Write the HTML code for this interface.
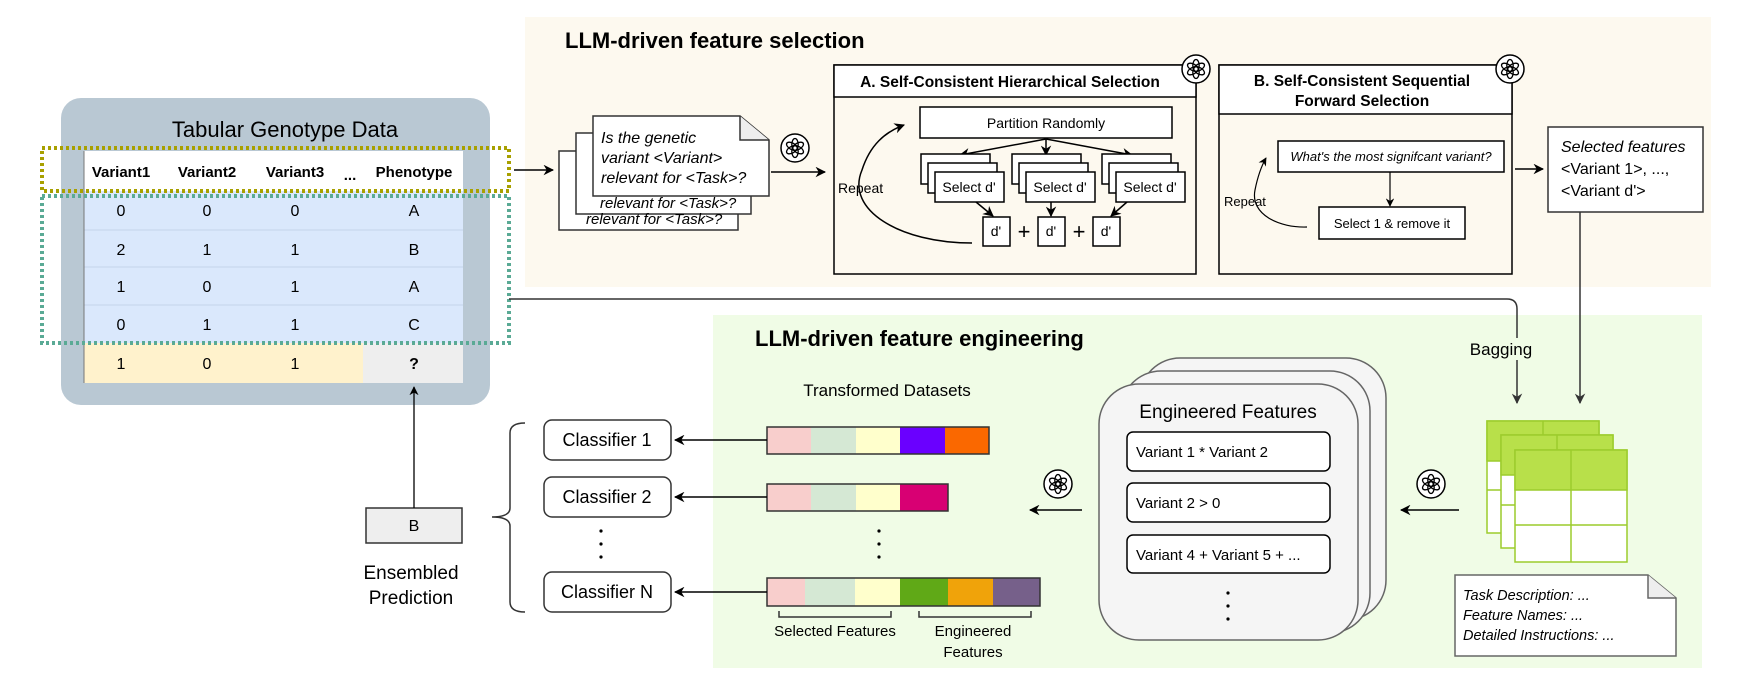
<!DOCTYPE html>
<html><head><meta charset="utf-8"><style>
html,body{margin:0;padding:0;background:#fff;}
svg{display:block;font-family:"Liberation Sans",Arial,sans-serif;}
</style></head><body>
<svg width="1744" height="681" viewBox="0 0 1744 681" xmlns="http://www.w3.org/2000/svg">
<defs>
<marker id="ah" viewBox="0 0 10 10" refX="9" refY="5" markerWidth="7" markerHeight="7" orient="auto-start-reverse"><path d="M0,0 L10,5 L0,10 L3,5 z" fill="#000"/></marker>
<marker id="ahg" viewBox="0 0 10 10" refX="9" refY="5" markerWidth="7" markerHeight="7" orient="auto-start-reverse"><path d="M0,0 L10,5 L0,10 L3,5 z" fill="#333"/></marker>
<g id="gpt">
<circle cx="0" cy="0" r="14" fill="#fff" stroke="#000" stroke-width="1.5"/>
<g fill="none" stroke="#000" stroke-width="1.3">
<ellipse cx="0" cy="-3.5" rx="3.2" ry="6" />
<ellipse cx="0" cy="-3.5" rx="3.2" ry="6" transform="rotate(60)"/>
<ellipse cx="0" cy="-3.5" rx="3.2" ry="6" transform="rotate(120)"/>
<ellipse cx="0" cy="-3.5" rx="3.2" ry="6" transform="rotate(180)"/>
<ellipse cx="0" cy="-3.5" rx="3.2" ry="6" transform="rotate(240)"/>
<ellipse cx="0" cy="-3.5" rx="3.2" ry="6" transform="rotate(300)"/>
</g>
</g>
</defs>

<!-- panels -->
<rect x="525" y="17" width="1186" height="270" fill="#fdf9ef"/>
<rect x="713" y="315" width="989" height="353" fill="#f0fce6"/>
<text x="565" y="48" font-size="22" font-weight="bold">LLM-driven feature selection</text>
<text x="755" y="346" font-size="22" font-weight="bold">LLM-driven feature engineering</text>

<!-- Tabular box -->
<rect x="61" y="98" width="429" height="307" rx="20" fill="#b9c8d3"/>
<text x="285" y="137" font-size="22" text-anchor="middle">Tabular Genotype Data</text>
<rect x="84" y="151" width="379" height="40" fill="#fff"/>
<rect x="84" y="191" width="379" height="152" fill="#dae8fc"/>
<g stroke="#c4d4ea" stroke-width="1"><line x1="84" y1="230" x2="463" y2="230"/><line x1="84" y1="267" x2="463" y2="267"/><line x1="84" y1="305" x2="463" y2="305"/></g>
<rect x="84" y="343" width="279" height="40" fill="#fff2cc"/>
<rect x="363" y="343" width="100" height="40" fill="#eeeeee"/>
<line x1="84" y1="151" x2="84" y2="383" stroke="#777" stroke-width="1"/>
<g font-size="15" font-weight="bold" text-anchor="middle">
<text x="121" y="177">Variant1</text><text x="207" y="177">Variant2</text><text x="295" y="177">Variant3</text><text x="350" y="180">...</text><text x="414" y="177">Phenotype</text>
</g>
<g font-size="16" text-anchor="middle">
<text x="121" y="216">0</text><text x="207" y="216">0</text><text x="295" y="216">0</text><text x="414" y="216">A</text>
<text x="121" y="255">2</text><text x="207" y="255">1</text><text x="295" y="255">1</text><text x="414" y="255">B</text>
<text x="121" y="292">1</text><text x="207" y="292">0</text><text x="295" y="292">1</text><text x="414" y="292">A</text>
<text x="121" y="330">0</text><text x="207" y="330">1</text><text x="295" y="330">1</text><text x="414" y="330">C</text>
<text x="121" y="369">1</text><text x="207" y="369">0</text><text x="295" y="369">1</text><text x="414" y="369" font-weight="bold">?</text>
</g>
<rect x="42" y="148" width="467" height="43" fill="none" stroke="#a8a000" stroke-width="4" stroke-dasharray="3,3"/>
<rect x="42" y="196" width="467" height="147" fill="none" stroke="#5aaa95" stroke-width="4" stroke-dasharray="3,3"/>

<!-- arrow to doc -->
<line x1="514" y1="170" x2="553" y2="170" stroke="#000" stroke-width="1.5" marker-end="url(#ah)"/>
<!-- doc stack -->
<rect x="559" y="151" width="179" height="79" fill="#fff" stroke="#333" stroke-width="1.5"/>
<rect x="576" y="133" width="175" height="81" fill="#fff" stroke="#333" stroke-width="1.5"/>
<text x="586" y="224" font-size="15" font-style="italic">relevant for  &lt;Task&gt;?</text>
<text x="600" y="208" font-size="15" font-style="italic">relevant for  &lt;Task&gt;?</text>
<path d="M593,116 L740,116 L769,140 L769,196 L593,196 Z" fill="#fff" stroke="#333" stroke-width="1.5"/>
<path d="M740,116 L740,140 L769,140" fill="#eee" stroke="#333" stroke-width="1.5"/>
<g font-size="16" font-style="italic"><text x="601" y="143">Is the genetic</text><text x="601" y="163">variant &lt;Variant&gt;</text><text x="601" y="183">relevant for &lt;Task&gt;?</text></g>
<use href="#gpt" x="795" y="148"/>
<line x1="771" y1="172" x2="825" y2="172" stroke="#000" stroke-width="1.5" marker-end="url(#ah)"/>

<!-- Box A -->
<rect x="834" y="65" width="362" height="209" fill="none" stroke="#000" stroke-width="1.5"/>
<rect x="834" y="65" width="362" height="32" fill="#fff" stroke="#000" stroke-width="1.5"/>
<text x="1010" y="87" font-size="15.5" font-weight="bold" text-anchor="middle">A. Self-Consistent Hierarchical Selection</text>
<use href="#gpt" x="1196" y="69"/>
<rect x="920" y="107" width="252" height="31" fill="#fff" stroke="#000" stroke-width="1.5"/>
<text x="1046" y="128" font-size="14" text-anchor="middle">Partition Randomly</text>
<g stroke="#000" stroke-width="1.5" fill="none">
<line x1="1046" y1="139" x2="960" y2="155" marker-end="url(#ah)"/>
<line x1="1046" y1="139" x2="1046" y2="155" marker-end="url(#ah)"/>
<line x1="1046" y1="139" x2="1132" y2="155" marker-end="url(#ah)"/>
</g>
<g stroke="#000" stroke-width="1.5" fill="#fff">
<rect x="921" y="154" width="69" height="30"/><rect x="928" y="163" width="69" height="30"/><rect x="935" y="172" width="69" height="30"/>
<rect x="1012" y="154" width="69" height="30"/><rect x="1019" y="163" width="69" height="30"/><rect x="1026" y="172" width="69" height="30"/>
<rect x="1102" y="154" width="69" height="30"/><rect x="1109" y="163" width="69" height="30"/><rect x="1116" y="172" width="69" height="30"/>
<rect x="983" y="217" width="27" height="29"/><rect x="1038" y="217" width="27" height="29"/><rect x="1093" y="217" width="27" height="29"/>
</g>
<g font-size="14" text-anchor="middle">
<text x="969" y="192">Select d'</text><text x="1060" y="192">Select d'</text><text x="1150" y="192">Select d'</text>
<text x="996" y="236">d'</text><text x="1051" y="236">d'</text><text x="1106" y="236">d'</text>
</g>
<g font-size="22" text-anchor="middle"><text x="1024" y="239">+</text><text x="1079" y="239">+</text></g>
<g stroke="#000" stroke-width="1.5" fill="none">
<line x1="976" y1="202" x2="993" y2="216" marker-end="url(#ah)"/>
<line x1="1051" y1="202" x2="1051" y2="216" marker-end="url(#ah)"/>
<line x1="1127" y1="202" x2="1111" y2="216" marker-end="url(#ah)"/>
<path d="M972,243 C900,243 845,210 862,170 C870,145 885,132 904,125" marker-end="url(#ah)"/>
</g>
<text x="838" y="193" font-size="14">Repeat</text>

<!-- Box B -->
<rect x="1219" y="65" width="293" height="209" fill="none" stroke="#000" stroke-width="1.5"/>
<rect x="1219" y="65" width="293" height="49" fill="#fff" stroke="#000" stroke-width="1.5"/>
<g font-size="15.5" font-weight="bold" text-anchor="middle"><text x="1362" y="86">B. Self-Consistent Sequential</text><text x="1362" y="106">Forward Selection</text></g>
<use href="#gpt" x="1510" y="69"/>
<rect x="1278" y="141" width="226" height="31" fill="#fff" stroke="#000" stroke-width="1.5"/>
<text x="1391" y="161" font-size="13" font-style="italic" text-anchor="middle">What's the most signifcant variant?</text>
<line x1="1390" y1="172" x2="1390" y2="206" stroke="#000" stroke-width="1.2" marker-end="url(#ah)"/>
<rect x="1319" y="207" width="146" height="32" fill="#fff" stroke="#000" stroke-width="1.5"/>
<text x="1392" y="228" font-size="13" text-anchor="middle">Select 1 &amp; remove it</text>
<path d="M1307,227 C1280,228 1250,215 1255,190 C1258,175 1262,165 1266,158" fill="none" stroke="#000" stroke-width="1.2" marker-end="url(#ah)"/>
<text x="1224" y="206" font-size="13">Repeat</text>
<line x1="1515" y1="169" x2="1543" y2="169" stroke="#000" stroke-width="1.5" marker-end="url(#ah)"/>
<rect x="1548" y="127" width="155" height="85" fill="#fff" stroke="#333" stroke-width="1.5"/>
<g font-size="16"><text x="1561" y="152" font-style="italic">Selected features</text><text x="1561" y="174">&lt;Variant 1&gt;, ...,</text><text x="1561" y="196">&lt;Variant d'&gt;</text></g>

<!-- connectors to tables -->
<line x1="1580" y1="212" x2="1580" y2="403" stroke="#333" stroke-width="1.5" marker-end="url(#ahg)"/>
<path d="M509,299 L1507,299 Q1517,299 1517,309 L1517,403" fill="none" stroke="#333" stroke-width="1.5" marker-end="url(#ahg)"/>
<rect x="1465" y="338" width="72" height="22" fill="#f0fce6"/>
<text x="1501" y="355" font-size="17" text-anchor="middle">Bagging</text>

<!-- green tables -->
<g stroke="#9ccc2c" stroke-width="1.5">
<rect x="1487" y="421" width="112" height="112" fill="#fff"/><rect x="1487" y="421" width="112" height="40" fill="#b8e04a"/>
<line x1="1487" y1="490" x2="1599" y2="490"/><line x1="1543" y1="421" x2="1543" y2="533"/>
<rect x="1501" y="435" width="112" height="113" fill="#fff"/><rect x="1501" y="435" width="112" height="40" fill="#b8e04a"/>
<line x1="1501" y1="505" x2="1613" y2="505"/><line x1="1557" y1="435" x2="1557" y2="548"/>
<rect x="1515" y="450" width="112" height="112" fill="#fff"/><rect x="1515" y="450" width="112" height="40" fill="#b8e04a"/>
<line x1="1515" y1="525" x2="1627" y2="525"/><line x1="1571" y1="450" x2="1571" y2="562"/>
</g>
<!-- note -->
<path d="M1455,575 L1648,575 L1676,598 L1676,656 L1455,656 Z" fill="#fff" stroke="#666" stroke-width="1.5"/>
<path d="M1648,575 L1648,598 L1676,598" fill="#eee" stroke="#666" stroke-width="1.5"/>
<g font-size="14.5" font-style="italic"><text x="1463" y="600">Task Description: ...</text><text x="1463" y="620">Feature Names: ...</text><text x="1463" y="640">Detailed Instructions: ...</text></g>

<use href="#gpt" x="1431" y="484"/>
<line x1="1459" y1="510" x2="1401" y2="510" stroke="#000" stroke-width="1.5" marker-end="url(#ah)"/>
<use href="#gpt" x="1058" y="484"/>
<line x1="1082" y1="510" x2="1030" y2="510" stroke="#000" stroke-width="1.5" marker-end="url(#ah)"/>

<!-- engineered features stack -->
<g fill="#f5f5f5" stroke="#666" stroke-width="1.5">
<rect x="1140" y="358" width="246" height="262" rx="40"/>
<rect x="1121" y="371" width="249" height="262" rx="40"/>
<rect x="1099" y="384" width="259" height="256" rx="40"/>
</g>
<text x="1228" y="418" font-size="19" text-anchor="middle">Engineered Features</text>
<g fill="#fff" stroke="#000" stroke-width="1.5">
<rect x="1127" y="432" width="203" height="39" rx="6"/><rect x="1127" y="483" width="203" height="39" rx="6"/><rect x="1127" y="535" width="203" height="38" rx="6"/>
</g>
<g font-size="15"><text x="1136" y="457">Variant 1 * Variant 2</text><text x="1136" y="508">Variant 2 &gt; 0</text><text x="1136" y="560">Variant 4 + Variant 5 + ...</text></g>
<g fill="#000"><circle cx="1228" cy="593" r="1.6"/><circle cx="1228" cy="606" r="1.6"/><circle cx="1228" cy="619" r="1.6"/></g>

<!-- transformed datasets -->
<text x="887" y="396" font-size="17" text-anchor="middle">Transformed Datasets</text>
<g stroke="none">
<rect x="767" y="427" width="44" height="27" fill="#f8cecc"/><rect x="811" y="427" width="45" height="27" fill="#d5e8d4"/><rect x="856" y="427" width="44" height="27" fill="#ffffcc"/><rect x="900" y="427" width="45" height="27" fill="#6a00ff"/><rect x="945" y="427" width="44" height="27" fill="#fa6800"/>
<rect x="767" y="484" width="44" height="27" fill="#f8cecc"/><rect x="811" y="484" width="45" height="27" fill="#d5e8d4"/><rect x="856" y="484" width="44" height="27" fill="#ffffcc"/><rect x="900" y="484" width="48" height="27" fill="#d80073"/>
<rect x="767" y="578" width="38" height="28" fill="#f8cecc"/><rect x="805" y="578" width="50" height="28" fill="#d5e8d4"/><rect x="855" y="578" width="45" height="28" fill="#ffffcc"/><rect x="900" y="578" width="48" height="28" fill="#60a917"/><rect x="948" y="578" width="45" height="28" fill="#f0a30a"/><rect x="993" y="578" width="47" height="28" fill="#76608a"/>
</g>
<g fill="none" stroke="#333" stroke-width="1.5">
<rect x="767" y="427" width="222" height="27"/><rect x="767" y="484" width="181" height="27"/><rect x="767" y="578" width="273" height="28"/>
<path d="M779,611 L779,617 L891,617 L891,611"/><path d="M919,611 L919,617 L1031,617 L1031,611"/>
</g>
<g fill="#000"><circle cx="879" cy="531" r="1.6"/><circle cx="879" cy="544" r="1.6"/><circle cx="879" cy="557" r="1.6"/>
<circle cx="601" cy="531" r="1.6"/><circle cx="601" cy="544" r="1.6"/><circle cx="601" cy="557" r="1.6"/></g>
<g font-size="15" text-anchor="middle"><text x="835" y="636">Selected Features</text><text x="973" y="636">Engineered</text><text x="973" y="657">Features</text></g>

<!-- classifiers -->
<g fill="#fff" stroke="#333" stroke-width="1.5">
<rect x="544" y="420" width="127" height="40" rx="8"/><rect x="544" y="477" width="127" height="40" rx="8"/><rect x="544" y="572" width="127" height="40" rx="8"/>
</g>
<g font-size="18" text-anchor="middle"><text x="607" y="446">Classifier 1</text><text x="607" y="503">Classifier 2</text><text x="607" y="598">Classifier N</text></g>
<g stroke="#000" stroke-width="1.5">
<line x1="767" y1="440" x2="675" y2="440" marker-end="url(#ah)"/>
<line x1="767" y1="497" x2="675" y2="497" marker-end="url(#ah)"/>
<line x1="767" y1="592" x2="675" y2="592" marker-end="url(#ah)"/>
</g>
<path d="M525,423 Q510,423 510,433 L510,508 Q510,517 492,517 Q510,517 510,526 L510,602 Q510,612 525,612" fill="none" stroke="#333" stroke-width="1.5"/>

<!-- B box -->
<rect x="366" y="508" width="96" height="35" fill="#eeeeee" stroke="#333" stroke-width="1.5"/>
<text x="414" y="531" font-size="16" text-anchor="middle">B</text>
<line x1="414" y1="508" x2="414" y2="387" stroke="#000" stroke-width="1.3" marker-end="url(#ah)"/>
<g font-size="19" text-anchor="middle"><text x="411" y="579">Ensembled</text><text x="411" y="604">Prediction</text></g>
</svg>
</body></html>
